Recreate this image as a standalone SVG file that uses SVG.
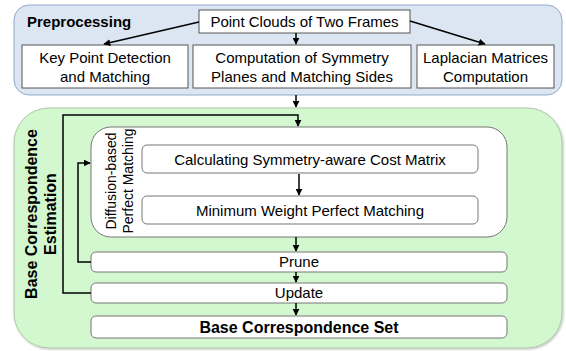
<svg xmlns="http://www.w3.org/2000/svg" width="566" height="351" viewBox="0 0 566 351">
<style>
text{font-family:"Liberation Sans",Arial,sans-serif;font-size:15px;fill:#000}
.b{font-weight:bold}
.box{fill:#fff;stroke:#555;stroke-width:1}
.rbox{fill:#fff;stroke:#777;stroke-width:1}
.ln{fill:none;stroke:#000;stroke-width:1.5}
</style>
<defs>
<marker id="ah" viewBox="0 0 10 10" refX="9" refY="5" markerWidth="7" markerHeight="7" orient="auto" markerUnits="userSpaceOnUse">
<path d="M0,0 L10,5 L0,10 z" fill="#000"/>
</marker>
<filter id="sh" x="-5%" y="-5%" width="110%" height="110%">
<feDropShadow dx="1" dy="1" stdDeviation="1" flood-color="#000" flood-opacity="0.25"/>
</filter>
</defs>
<g id="preprocessing">
<rect x="14" y="5" width="548" height="90" rx="15" fill="#dce6f2" stroke="#8eaacc" stroke-width="1"/>
<text class="b" x="27" y="27">Preprocessing</text>
</g>
<g id="estimation">
<rect x="14" y="108" width="548" height="240" rx="35" fill="#d3f8cf" stroke="#a8c8a4" stroke-width="1" filter="url(#sh)"/>
<text class="b" transform="translate(37,214) rotate(-90)" text-anchor="middle" style="font-size:16px">Base Correspondence</text>
<text class="b" transform="translate(56,214) rotate(-90)" text-anchor="middle" style="font-size:16px">Estimation</text>
</g>
<g id="pointclouds">
<rect class="box" x="199" y="10" width="211" height="23"/>
<text x="304.5" y="27" text-anchor="middle">Point Clouds of Two Frames</text>
</g>
<g id="keypoint">
<rect class="box" x="22" y="45" width="166" height="43"/>
<text x="105" y="63" text-anchor="middle">Key Point Detection</text>
<text x="105" y="82" text-anchor="middle">and Matching</text>
</g>
<g id="symmetry">
<rect class="box" x="193" y="45" width="218" height="43"/>
<text x="302" y="63" text-anchor="middle">Computation of Symmetry</text>
<text x="302" y="82" text-anchor="middle">Planes and Matching Sides</text>
</g>
<g id="laplacian">
<rect class="box" x="417" y="45" width="137" height="43"/>
<text x="485.5" y="63" text-anchor="middle">Laplacian Matrices</text>
<text x="485.5" y="82" text-anchor="middle">Computation</text>
</g>
<g id="diffusion">
<rect x="91" y="127" width="416" height="110" rx="20" fill="#fff" stroke="#777" stroke-width="1"/>
<text transform="translate(116,181) rotate(-90)" text-anchor="middle" style="font-size:14px">Diffusion-based</text>
<text transform="translate(133,181) rotate(-90)" text-anchor="middle" style="font-size:14px">Perfect Matching</text>
</g>
<g id="costmatrix">
<rect class="rbox" x="142" y="145" width="336" height="28" rx="5"/>
<text x="310" y="165" text-anchor="middle">Calculating Symmetry-aware Cost Matrix</text>
</g>
<g id="mwpm">
<rect class="rbox" x="142" y="196" width="336" height="28" rx="5"/>
<text x="310" y="216" text-anchor="middle">Minimum Weight Perfect Matching</text>
</g>
<g id="prune">
<rect class="rbox" x="91" y="252" width="416" height="20" rx="5"/>
<text x="299" y="267" text-anchor="middle">Prune</text>
</g>
<g id="update">
<rect class="rbox" x="91" y="283" width="416" height="20" rx="5"/>
<text x="299" y="298" text-anchor="middle">Update</text>
</g>
<g id="baseset">
<rect class="rbox" x="91" y="316" width="416" height="22" rx="5"/>
<text class="b" x="299" y="333" text-anchor="middle" style="font-size:16px">Base Correspondence Set</text>
</g>
<g id="connectors">
<line class="ln" x1="199" y1="22" x2="104" y2="44" marker-end="url(#ah)"/>
<line class="ln" x1="410" y1="21" x2="485" y2="44" marker-end="url(#ah)"/>
<line class="ln" x1="296" y1="33" x2="296" y2="44" marker-end="url(#ah)"/>
<line class="ln" x1="296" y1="95" x2="296" y2="107" marker-end="url(#ah)"/>
<polyline class="ln" points="91,293 63,293 63,115 298,115 298,126" marker-end="url(#ah)"/>
<polyline class="ln" points="91,262 78,262 78,163 90,163" marker-end="url(#ah)"/>
<line class="ln" x1="299" y1="174" x2="299" y2="195" marker-end="url(#ah)"/>
<line class="ln" x1="296" y1="237" x2="296" y2="251" marker-end="url(#ah)"/>
<line class="ln" x1="296" y1="272" x2="296" y2="282" marker-end="url(#ah)"/>
<line class="ln" x1="296" y1="303" x2="296" y2="315" marker-end="url(#ah)"/>
</g>
</svg>
